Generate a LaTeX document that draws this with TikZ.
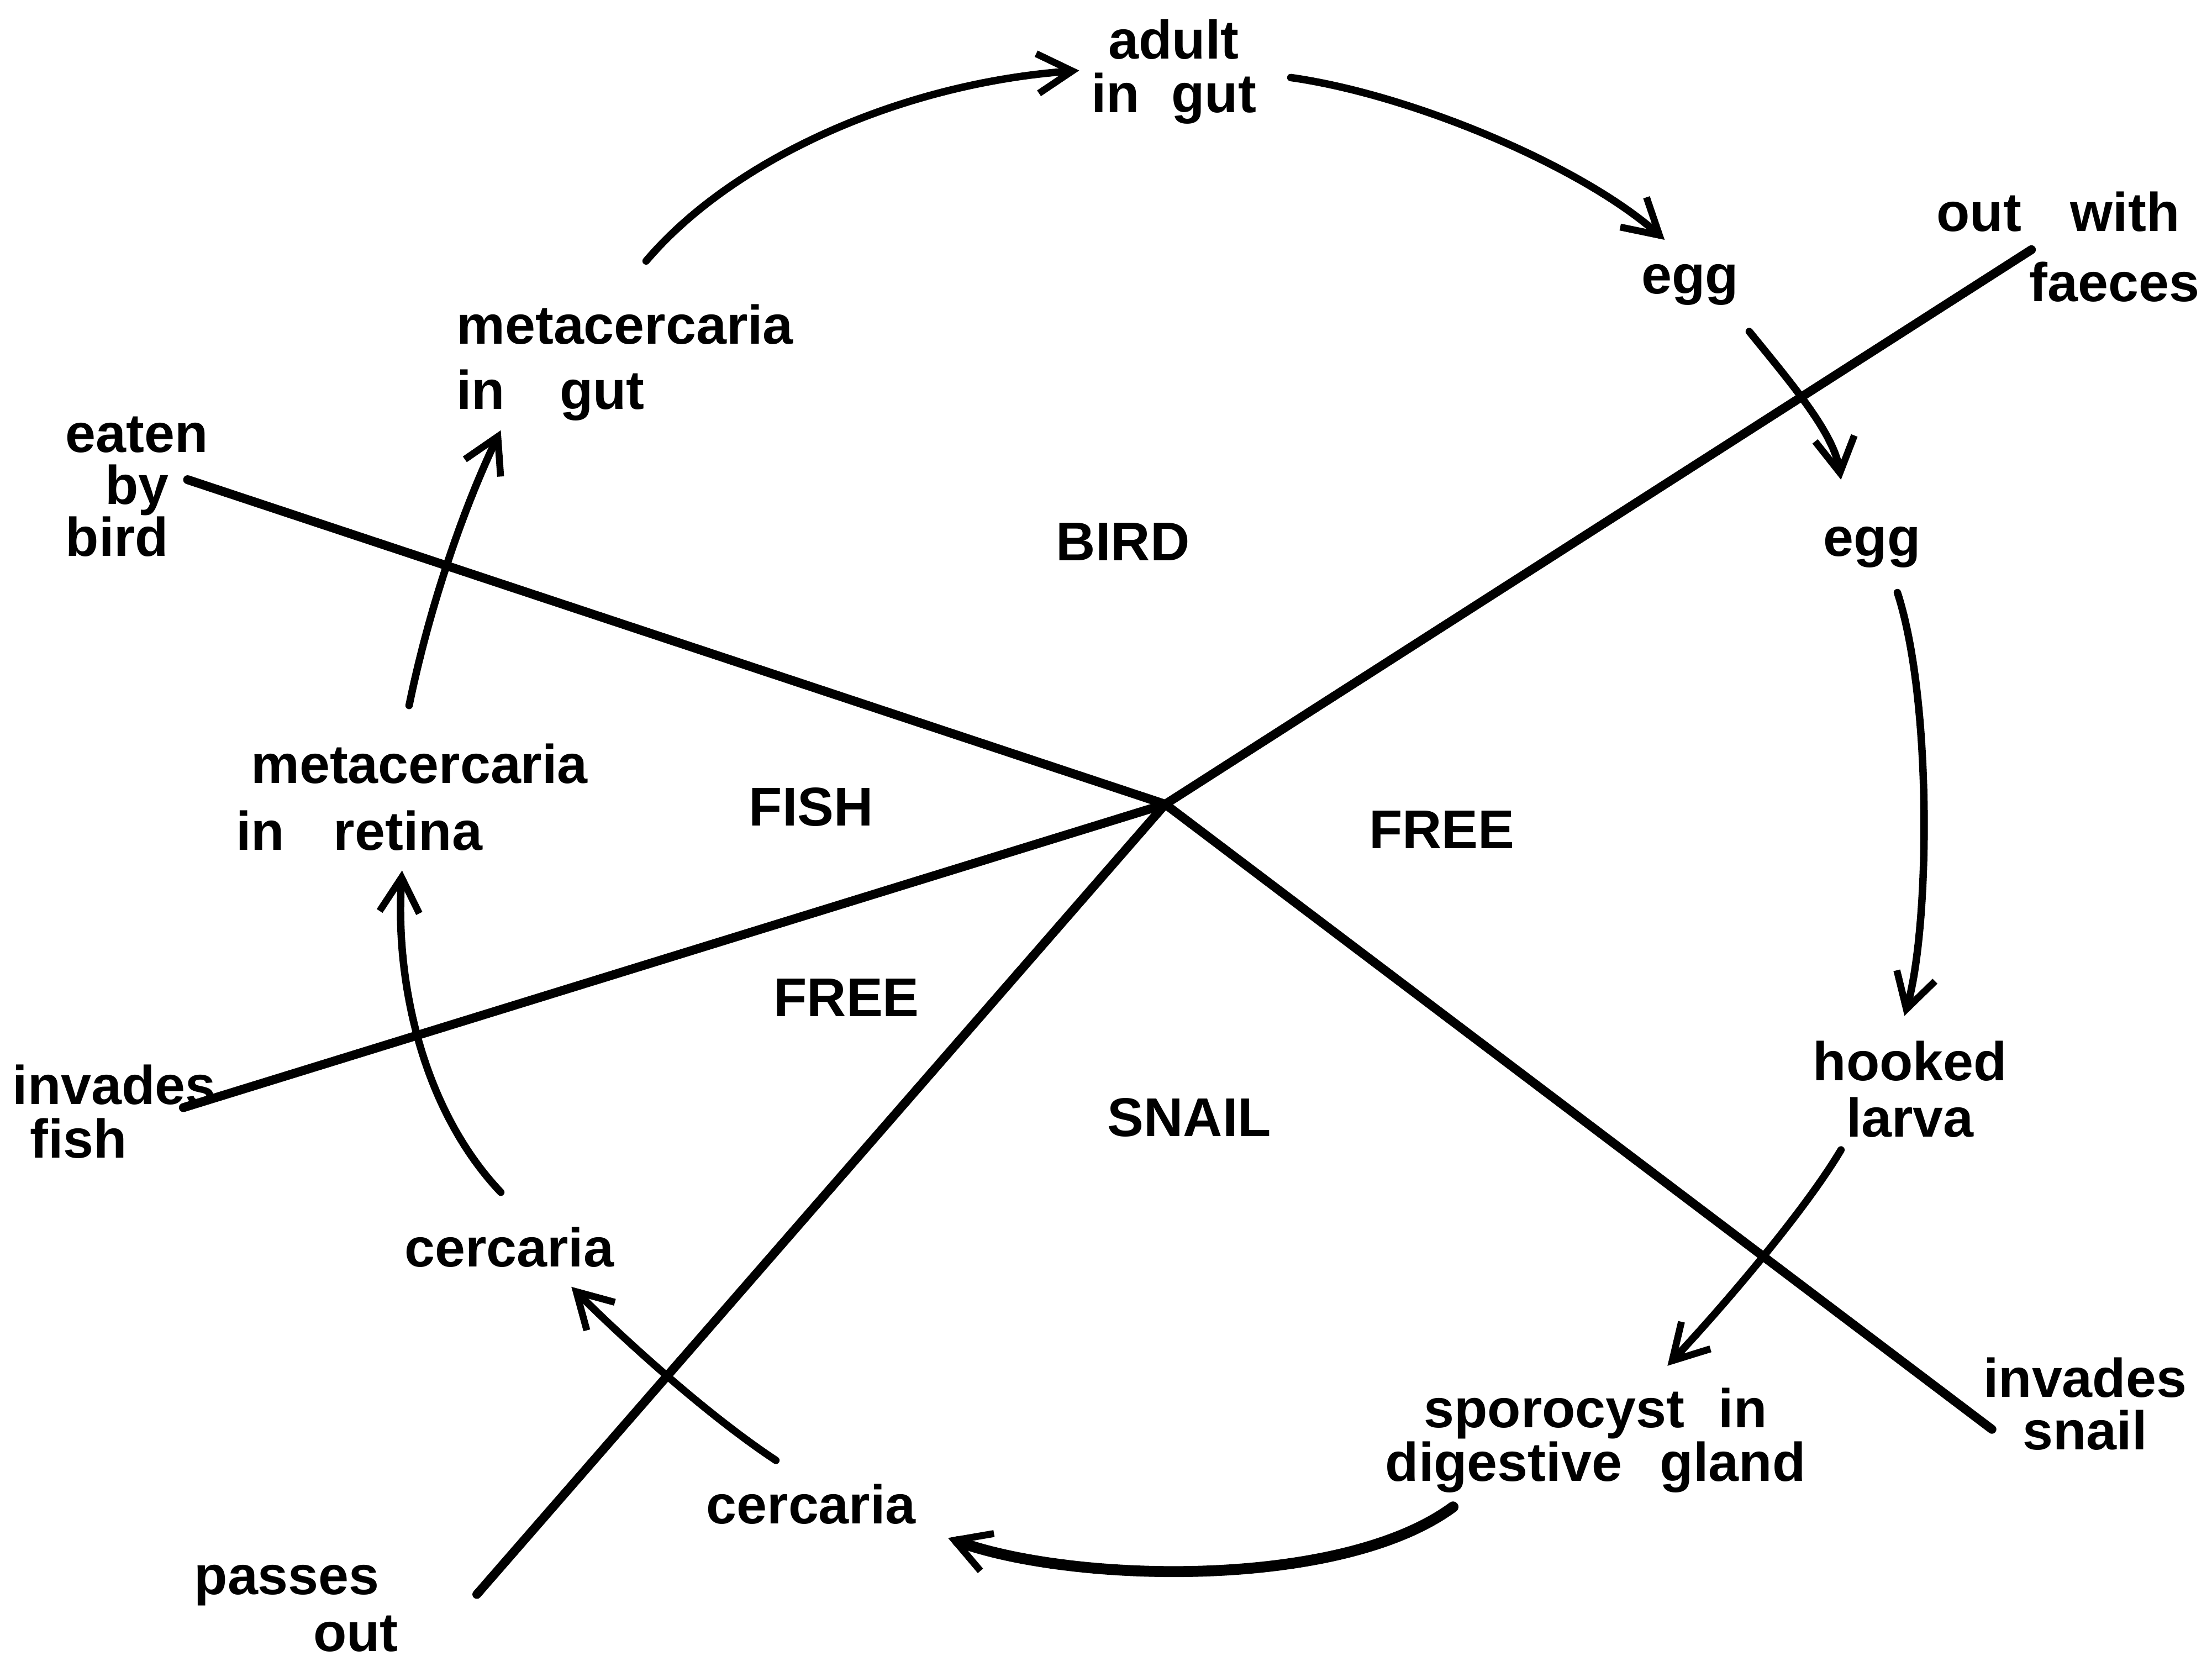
\documentclass[tikz,border=0pt]{standalone}
\usepackage{fontspec}
\setmainfont{Liberation Sans}
\usetikzlibrary{arrows.meta}
\begin{document}
\begin{tikzpicture}[x=0.01cm,y=0.01cm,
  lab/.style={font=\fontsize{11}{12}\selectfont\bfseries, inner sep=0pt, align=center},
  ray/.style={line width=1.8pt, line cap=round},
  arr/.style={line width=1.5pt, line cap=round, -{Straight Barb[length=7pt,width=8pt,line width=1.4pt]}},
  thickarr/.style={arr, line width=2.2pt}]
\useasboundingbox (0,0) rectangle (1568,1177);

% labels
\node[lab] (adult) at (832,1126) {adult\\[-1.2pt]in\hspace{0.58em}gut};
\node[lab] (egg1) at (1198,975) {egg};
\node[lab, align=right] (out) at (1466,1002) {out\hspace{0.9em}with\kern4pt\\[2.2pt]faeces};
\node[lab, align=left] (metagut) at (443,920) {metacercaria\\[1.1pt]in\hspace{1em}gut};
\node[lab, align=left] (eaten) at (97,832) {eaten\\[-1.5pt]\hspace{8pt}by\\[-1.5pt]bird};
\node[lab] (bird) at (796,793) {BIRD};
\node[lab] (egg2) at (1327,789) {egg};
\node[lab, align=left] (metaret) at (292,612) {\hspace{3pt}metacercaria\\[1.4pt]in\hspace{0.9em}retina};
\node[lab] (fish) at (575,605) {FISH};
\node[lab] (freeR) at (1022,589) {FREE};
\node[lab] (freeL) at (600,470) {FREE};
\node[lab, align=left] (invfish) at (81,389) {invades\\[-1.2pt]\hspace{3.5pt}fish};
\node[lab] (snail) at (843,385) {SNAIL};
\node[lab] (hooked) at (1354,405) {hooked\\[-0.6pt]larva};
\node[lab] (cerc1) at (361,293) {cercaria};
\node[lab] (invsnail) at (1478,182) {invades\\[-1.5pt]snail};
\node[lab] (sporo) at (1131,156) {sporocyst\hspace{0.62em}in\\[-1.2pt]digestive\hspace{0.7em}gland};
\node[lab] (cerc2) at (575,111) {cercaria};
\node[lab, align=left] (passes) at (210,37) {passes\\[-0.6pt]\hspace{24pt}out};

% dividing rays
\coordinate (hub) at (826,607);
\draw[ray] (hub) -- ([shift={(36,5)}]eaten.center);
\draw[ray] (hub) -- ([shift={(-26,-2)}]out.center);
\draw[ray] (hub) -- ([shift={(-66,-18)}]invsnail.center);
\draw[ray] (hub) -- ([shift={(128,10)}]passes.center);
\draw[ray] (hub) -- ([shift={(49,3)}]invfish.center);

% life-cycle arrows
\draw[arr] ([shift={(15,72)}]metagut.center) .. controls +(62,73) and +(-125,-9) .. ([shift={(-67,1)}]adult.center);
\draw[arr] ([shift={(83,-4)}]adult.center) .. controls +(85,-12) and +(-60,53) .. ([shift={(-18,32)}]egg1.center);
\draw[arr] ([shift={(42,-33)}]egg1.center) .. controls +(30,-37) and +(-5,33) .. ([shift={(-22,48)}]egg2.center);
\draw[arr] ([shift={(18,-32)}]egg2.center) .. controls +(25,-77) and +(18,63) .. ([shift={(-4,52)}]hooked.center);
\draw[arr] ([shift={(-49,-43)}]hooked.center) .. controls +(-25,-42) and +(43,46) .. ([shift={(51,53)}]sporo.center);
\draw[thickarr] ([shift={(-101,-47)}]sporo.center) .. controls +(-80,-59) and +(88,-32) .. ([shift={(97,-24)}]cerc2.center);
\draw[arr] ([shift={(-25,31)}]cerc2.center) .. controls +(-50,33) and +(35,-35) .. ([shift={(44,-28)}]cerc1.center);
\draw[arr] ([shift={(-6,39)}]cerc1.center) .. controls +(-55,58) and +(-5,-80) .. ([shift={(-7,-52)}]metaret.center);
\draw[arr] ([shift={(-2,65)}]metaret.center) .. controls +(15,73) and +(-25,-52) .. ([shift={(-88,-48)}]metagut.center);
\end{tikzpicture}
\end{document}
